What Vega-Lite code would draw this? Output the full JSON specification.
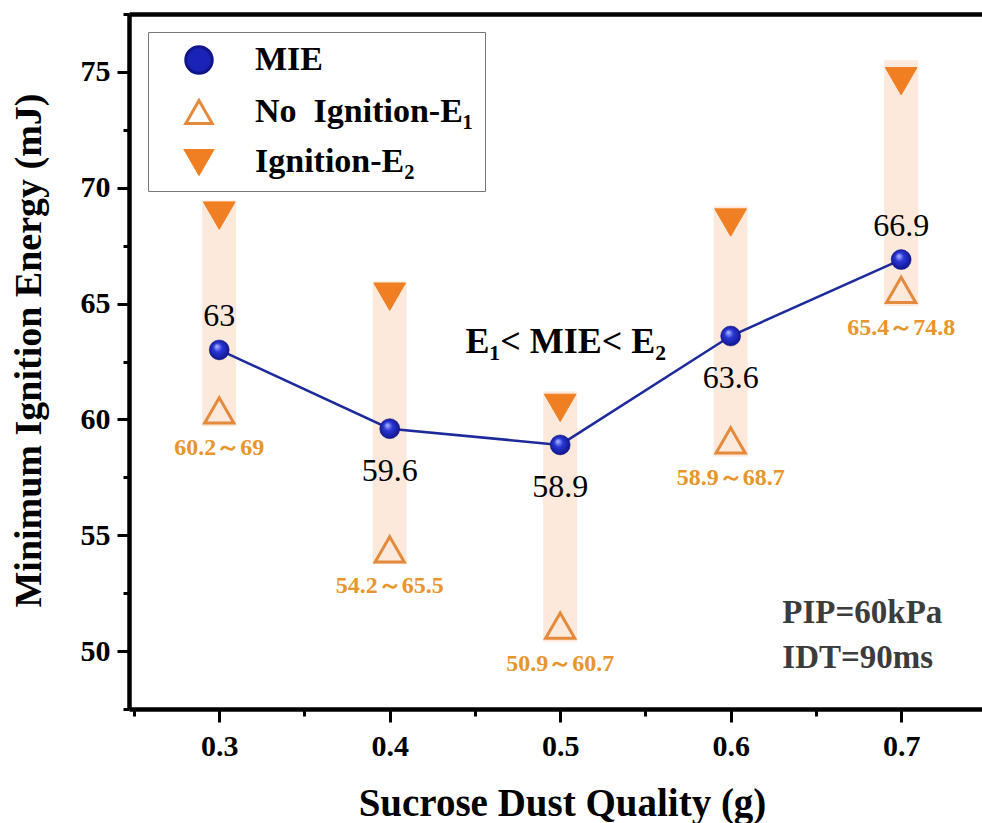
{
  "$schema": "https://vega.github.io/schema/vega-lite/v6.json",
  "autosize": "none",
  "width": 853,
  "height": 695,
  "padding": {"left": 129, "top": 14, "right": 0, "bottom": 114},
  "background": "white",
  "config": {
    "view": {"stroke": null},
    "font": "Liberation Serif",
    "legend": {
      "orient": "none",
      "legendX": 19,
      "legendY": 18,
      "title": null,
      "padding": 11,
      "rowPadding": 14,
      "strokeColor": "#777777",
      "fillColor": "white",
      "symbolSize": 700,
      "symbolStrokeWidth": 3,
      "symbolOffset": 23,
      "labelOffset": 39,
      "labelFont": "Liberation Serif",
      "labelFontWeight": "bold",
      "labelFontSize": 34,
      "labelColor": "black",
      "labelLimit": 400
    }
  },
  "datasets": {
    "pts": [
      {"x": 0.3, "series": "MIE", "value": 63},
      {"x": 0.4, "series": "MIE", "value": 59.6},
      {"x": 0.5, "series": "MIE", "value": 58.9},
      {"x": 0.6, "series": "MIE", "value": 63.6},
      {"x": 0.7, "series": "MIE", "value": 66.9},
      {"x": 0.3, "series": "No\u00a0 Ignition-E\u2081", "value": 60.2},
      {"x": 0.4, "series": "No\u00a0 Ignition-E\u2081", "value": 54.2},
      {"x": 0.5, "series": "No\u00a0 Ignition-E\u2081", "value": 50.9},
      {"x": 0.6, "series": "No\u00a0 Ignition-E\u2081", "value": 58.9},
      {"x": 0.7, "series": "No\u00a0 Ignition-E\u2081", "value": 65.4},
      {"x": 0.3, "series": "Ignition-E\u2082", "value": 69},
      {"x": 0.4, "series": "Ignition-E\u2082", "value": 65.5},
      {"x": 0.5, "series": "Ignition-E\u2082", "value": 60.7},
      {"x": 0.6, "series": "Ignition-E\u2082", "value": 68.7},
      {"x": 0.7, "series": "Ignition-E\u2082", "value": 74.8}
    ],
    "ranges": [
      {"x": 0.3, "lo": 59.7, "hi": 69.45, "label": "60.2\uff5e69"},
      {"x": 0.4, "lo": 53.75, "hi": 65.95, "label": "54.2\uff5e65.5"},
      {"x": 0.5, "lo": 50.4, "hi": 61.2, "label": "50.9\uff5e60.7"},
      {"x": 0.6, "lo": 58.4, "hi": 69.2, "label": "58.9\uff5e68.7"},
      {"x": 0.7, "lo": 64.9, "hi": 75.5, "label": "65.4\uff5e74.8"}
    ]
  },
  "resolve": {"axis": {"x": "independent", "y": "independent"}},
  "layer": [
    {
      "data": {"name": "ranges"},
      "mark": {"type": "bar", "width": 34, "color": "#fde9db"},
      "encoding": {
        "x": {
          "field": "x", "type": "quantitative",
          "scale": {"domain": [0.25, 0.7445], "nice": false, "zero": false},
          "axis": {
            "orient": "bottom", "values": [0.3, 0.4, 0.5, 0.6, 0.7], "format": ".1f",
            "grid": false, "domainColor": "black", "domainWidth": 4.5,
            "tickColor": "black", "tickWidth": 3, "tickSize": 13,
            "labelFont": "Liberation Serif", "labelFontWeight": "bold", "labelFontSize": 30,
            "labelColor": "black", "labelPadding": 9, "labelFlush": false, "labelOverlap": false,
            "title": "Sucrose Dust Quality (g)", "titleFont": "Liberation Serif",
            "titleFontWeight": "bold", "titleFontSize": 39, "titleColor": "black",
            "titleX": 433, "titleY": 106, "titleBaseline": "alphabetic", "titleAlign": "center"
          }
        },
        "y": {
          "field": "lo", "type": "quantitative",
          "scale": {"domain": [47.5, 77.5], "nice": false, "zero": false},
          "axis": {
            "orient": "left", "values": [50, 55, 60, 65, 70, 75],
            "grid": false, "domainColor": "black", "domainWidth": 4.5,
            "tickColor": "black", "tickWidth": 3, "tickSize": 12,
            "labelFont": "Liberation Serif", "labelFontWeight": "bold", "labelFontSize": 30,
            "labelColor": "black", "labelPadding": 7, "labelFlush": false, "labelOverlap": false,
            "title": "Minimum Ignition Energy (mJ)", "titleFont": "Liberation Serif",
            "titleFontWeight": "bold", "titleFontSize": 38, "titleColor": "black",
            "titleAngle": 270, "titleX": -89, "titleY": 336, "titleBaseline": "alphabetic", "titleAlign": "center"
          }
        },
        "y2": {"field": "hi"}
      }
    },
    {
      "data": {"name": "pts"},
      "transform": [{"filter": {"field": "series", "equal": "MIE"}}],
      "mark": {"type": "line", "color": "#1c2a9c", "strokeWidth": 2.5},
      "encoding": {
        "x": {
          "field": "x", "type": "quantitative",
          "scale": {"domain": [0.25, 0.7445], "nice": false, "zero": false},
          "axis": {
            "orient": "bottom", "values": [0.25, 0.35, 0.45, 0.55, 0.65],
            "domain": false, "labels": false, "grid": false,
            "tickColor": "black", "tickWidth": 3, "tickSize": 7, "title": null
          }
        },
        "y": {
          "field": "value", "type": "quantitative",
          "scale": {"domain": [47.5, 77.5], "nice": false, "zero": false},
          "axis": {
            "orient": "left", "values": [47.5, 52.5, 57.5, 62.5, 67.5, 72.5, 77.5],
            "domain": false, "labels": false, "grid": false,
            "tickColor": "black", "tickWidth": 3, "tickSize": 6, "title": null
          }
        }
      }
    },
    {
      "data": {"name": "pts"},
      "transform": [{"filter": {"field": "series", "equal": "No\u00a0 Ignition-E\u2081"}}],
      "mark": {"type": "point", "size": 850, "strokeWidth": 3, "yOffset": -4.5, "opacity": 1},
      "encoding": {
        "x": {
          "field": "x", "type": "quantitative",
          "scale": {"domain": [0.25, 0.7445], "nice": false, "zero": false},
          "axis": {
            "orient": "top", "domain": true, "domainColor": "black", "domainWidth": 4.5,
            "ticks": false, "labels": false, "grid": false, "title": null
          }
        },
        "y": {
          "field": "value", "type": "quantitative",
          "scale": {"domain": [47.5, 77.5], "nice": false, "zero": false},
          "axis": null
        },
        "shape": {
          "field": "series", "type": "nominal",
          "scale": {"domain": ["MIE", "No\u00a0 Ignition-E\u2081", "Ignition-E\u2082"], "range": ["circle", "triangle-up", "triangle-down"]}
        },
        "fill": {
          "field": "series", "type": "nominal",
          "scale": {"domain": ["MIE", "No\u00a0 Ignition-E\u2081", "Ignition-E\u2082"], "range": ["#1a22b8", "transparent", "#ef7f22"]}
        },
        "stroke": {
          "field": "series", "type": "nominal",
          "scale": {"domain": ["MIE", "No\u00a0 Ignition-E\u2081", "Ignition-E\u2082"], "range": ["#10158a", "#e38a3d", "#ef7f22"]}
        }
      }
    },
    {
      "data": {"name": "pts"},
      "transform": [{"filter": {"field": "series", "equal": "Ignition-E\u2082"}}],
      "mark": {"type": "point", "size": 1000, "strokeWidth": 1, "yOffset": 4.7, "opacity": 1},
      "encoding": {
        "x": {"field": "x", "type": "quantitative", "scale": {"domain": [0.25, 0.7445], "nice": false, "zero": false}, "axis": null},
        "y": {"field": "value", "type": "quantitative", "scale": {"domain": [47.5, 77.5], "nice": false, "zero": false}, "axis": null},
        "shape": {
          "field": "series", "type": "nominal",
          "scale": {"domain": ["MIE", "No\u00a0 Ignition-E\u2081", "Ignition-E\u2082"], "range": ["circle", "triangle-up", "triangle-down"]}
        },
        "fill": {
          "field": "series", "type": "nominal",
          "scale": {"domain": ["MIE", "No\u00a0 Ignition-E\u2081", "Ignition-E\u2082"], "range": ["#1a22b8", "transparent", "#ef7f22"]}
        },
        "stroke": {
          "field": "series", "type": "nominal",
          "scale": {"domain": ["MIE", "No\u00a0 Ignition-E\u2081", "Ignition-E\u2082"], "range": ["#10158a", "#e38a3d", "#ef7f22"]}
        }
      }
    },
    {
      "data": {"name": "pts"},
      "transform": [{"filter": {"field": "series", "equal": "MIE"}}],
      "mark": {
        "type": "point", "shape": "circle", "size": 400, "opacity": 1,
        "fill": {
          "gradient": "radial", "x1": 0.38, "y1": 0.32, "r1": 0.02, "x2": 0.5, "y2": 0.5, "r2": 0.6,
          "stops": [
            {"offset": 0, "color": "#a8b4ff"},
            {"offset": 0.35, "color": "#2a36d6"},
            {"offset": 1, "color": "#0a0f7a"}
          ]
        },
        "stroke": "#0b107e", "strokeWidth": 0.5
      },
      "encoding": {
        "x": {"field": "x", "type": "quantitative", "scale": {"domain": [0.25, 0.7445], "nice": false, "zero": false}, "axis": null},
        "y": {"field": "value", "type": "quantitative", "scale": {"domain": [47.5, 77.5], "nice": false, "zero": false}, "axis": null}
      }
    },
    {
      "data": {"name": "pts"},
      "transform": [
        {"filter": {"field": "series", "equal": "MIE"}},
        {"filter": {"field": "x", "oneOf": [0.3, 0.7]}}
      ],
      "mark": {"type": "text", "font": "Liberation Serif", "fontSize": 32, "color": "black", "baseline": "alphabetic", "align": "center", "dy": -24},
      "encoding": {
        "x": {"field": "x", "type": "quantitative", "scale": {"domain": [0.25, 0.7445], "nice": false, "zero": false}, "axis": null},
        "y": {"field": "value", "type": "quantitative", "scale": {"domain": [47.5, 77.5], "nice": false, "zero": false}, "axis": null},
        "text": {"field": "value", "type": "nominal"}
      }
    },
    {
      "data": {"name": "pts"},
      "transform": [
        {"filter": {"field": "series", "equal": "MIE"}},
        {"filter": {"not": {"field": "x", "oneOf": [0.3, 0.7]}}}
      ],
      "mark": {"type": "text", "font": "Liberation Serif", "fontSize": 32, "color": "black", "baseline": "alphabetic", "align": "center", "dy": 52},
      "encoding": {
        "x": {"field": "x", "type": "quantitative", "scale": {"domain": [0.25, 0.7445], "nice": false, "zero": false}, "axis": null},
        "y": {"field": "value", "type": "quantitative", "scale": {"domain": [47.5, 77.5], "nice": false, "zero": false}, "axis": null},
        "text": {"field": "value", "type": "nominal"}
      }
    },
    {
      "data": {"name": "ranges"},
      "mark": {"type": "text", "font": "Liberation Serif", "fontWeight": "bold", "fontSize": 24, "color": "#e8952d", "baseline": "alphabetic", "align": "center", "dy": 29},
      "encoding": {
        "x": {"field": "x", "type": "quantitative", "scale": {"domain": [0.25, 0.7445], "nice": false, "zero": false}, "axis": null},
        "y": {"field": "lo", "type": "quantitative", "scale": {"domain": [47.5, 77.5], "nice": false, "zero": false}, "axis": null},
        "text": {"field": "label", "type": "nominal"}
      }
    },
    {
      "data": {"values": [{"x": 0.5033, "y": 62.87, "t": "E\u2081< MIE< E\u2082"}]},
      "mark": {"type": "text", "font": "Liberation Serif", "fontWeight": "bold", "fontSize": 36, "color": "black", "baseline": "alphabetic", "align": "center"},
      "encoding": {
        "x": {"field": "x", "type": "quantitative", "scale": {"domain": [0.25, 0.7445], "nice": false, "zero": false}, "axis": null},
        "y": {"field": "y", "type": "quantitative", "scale": {"domain": [47.5, 77.5], "nice": false, "zero": false}, "axis": null},
        "text": {"field": "t", "type": "nominal"}
      }
    },
    {
      "data": {"values": [
        {"x": 0.6303, "y": 51.22, "t": "PIP=60kPa"},
        {"x": 0.6303, "y": 49.27, "t": "IDT=90ms"}
      ]},
      "mark": {"type": "text", "font": "Liberation Serif", "fontWeight": "bold", "fontSize": 33, "color": "#3c3c3c", "baseline": "alphabetic", "align": "left"},
      "encoding": {
        "x": {"field": "x", "type": "quantitative", "scale": {"domain": [0.25, 0.7445], "nice": false, "zero": false}, "axis": null},
        "y": {"field": "y", "type": "quantitative", "scale": {"domain": [47.5, 77.5], "nice": false, "zero": false}, "axis": null},
        "text": {"field": "t", "type": "nominal"}
      }
    }
  ]
}
